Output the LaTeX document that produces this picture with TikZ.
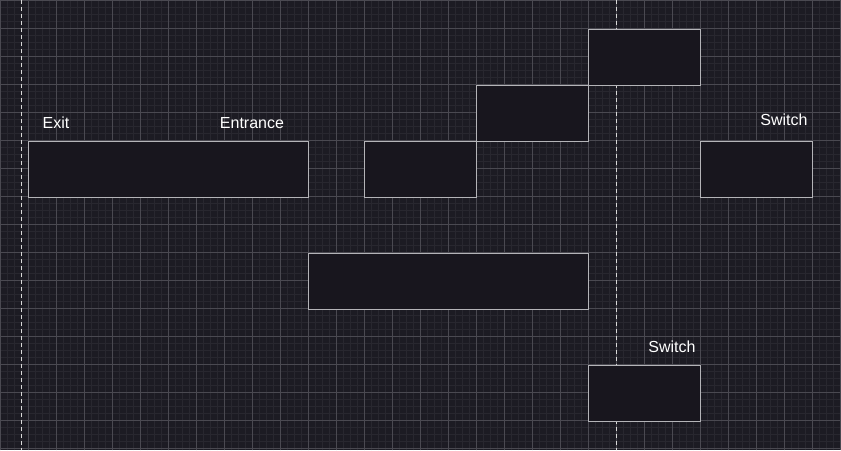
\documentclass[tikz,border=0pt]{standalone}
\usepackage{fontspec}
\setmainfont{Liberation Sans}
\definecolor{bg}{HTML}{1C1B23}
\definecolor{minorgrid}{HTML}{28272F}
\definecolor{majorgrid}{HTML}{4A4951}
\definecolor{boxfill}{HTML}{18161E}
\definecolor{boxline}{HTML}{B4B4B8}
\tikzset{
  blk/.style={draw=boxline, fill=boxfill, line width=1pt},
  lbl/.style={text=white, font=\fontsize{16}{19}\selectfont, inner sep=0pt},
  guide/.style={draw=white!85!black, dash pattern=on 4pt off 3pt, line width=0.8pt}
}
\begin{document}
\begin{tikzpicture}[x=1pt,y=-1pt]
\fill[bg] (0,0) rectangle (841,450);
\useasboundingbox (0,0) rectangle (841,450);
\draw[minorgrid, line width=0.6pt] (0,0) grid[step=7pt] (841,450);
\draw[majorgrid, line width=0.8pt] (0,0) grid[step=28pt] (841,450);
\coordinate (d1t) at (21,0); \coordinate (d1b) at (21,450);
\coordinate (d2t) at (616,0); \coordinate (d2b) at (616,450);
\draw[guide] (d1t) -- (d1b);
\draw[guide] (d2t) -- (d2b);
\path[blk] (28,141) rectangle (308,197) node[pos=0.5] (b1) {};
\path[blk] (364,141) rectangle (476,197) node[pos=0.5] (b2) {};
\path[blk] (476,85) rectangle (588,141) node[pos=0.5] (b3) {};
\path[blk] (588,29) rectangle (700,85) node[pos=0.5] (b4) {};
\path[blk] (700,141) rectangle (812,197) node[pos=0.5] (b5) {};
\path[blk] (308,253) rectangle (588,309) node[pos=0.5] (b6) {};
\path[blk] (588,365) rectangle (700,421) node[pos=0.5] (b7) {};
\node[lbl] (exit) at (56,123) {Exit};
\node[lbl] (entr) at (252,123) {Entrance};
\node[lbl] (sw1) at (784,120) {Switch};
\node[lbl] (sw2) at (672,347) {Switch};
\end{tikzpicture}
\end{document}
